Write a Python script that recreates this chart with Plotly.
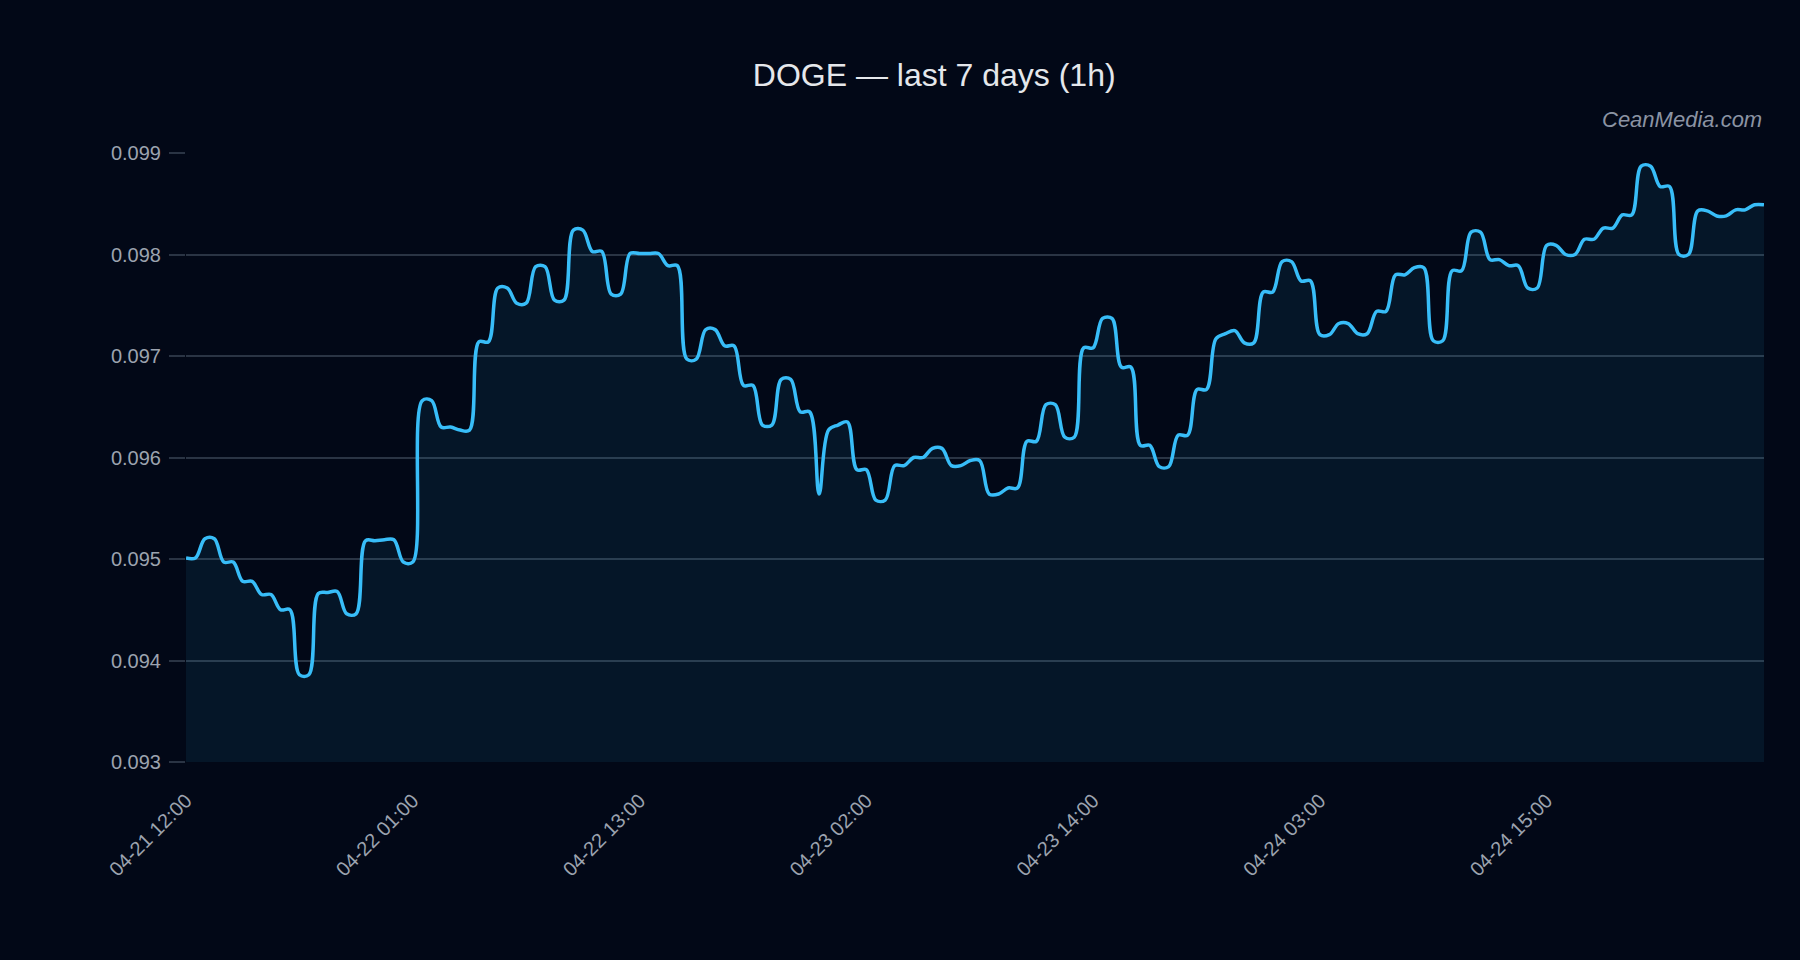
import plotly.graph_objects as go

price = [
    0.09501, 0.09501, 0.09520, 0.09520, 0.09497, 0.09497, 0.09478, 0.09478,
    0.09465, 0.09465, 0.09450, 0.09450, 0.09386, 0.09386, 0.09466, 0.09467,
    0.09468, 0.09446, 0.09446, 0.09518, 0.09518, 0.09519, 0.09519, 0.09497,
    0.09497, 0.09656, 0.09656, 0.09630, 0.09630, 0.09627, 0.09627, 0.09714,
    0.09714, 0.09767, 0.09767, 0.09752, 0.09752, 0.09788, 0.09788, 0.09755,
    0.09755, 0.09824, 0.09824, 0.09803, 0.09803, 0.09761, 0.09761, 0.09801,
    0.09801, 0.09801, 0.09801, 0.09789, 0.09789, 0.09697, 0.09697, 0.09726,
    0.09726, 0.09710, 0.09710, 0.09671, 0.09671, 0.09632, 0.09632, 0.09677,
    0.09677, 0.09645, 0.09645, 0.09564, 0.09627, 0.09632, 0.09635, 0.09588,
    0.09588, 0.09558, 0.09558, 0.09592, 0.09592, 0.09600, 0.09600, 0.09609,
    0.09609, 0.09592, 0.09592, 0.09597, 0.09597, 0.09564, 0.09564, 0.09570,
    0.09570, 0.09616, 0.09616, 0.09652, 0.09652, 0.09620, 0.09620, 0.09708,
    0.09708, 0.09737, 0.09737, 0.09689, 0.09689, 0.09612, 0.09612, 0.09591,
    0.09591, 0.09622, 0.09622, 0.09667, 0.09667, 0.09717, 0.09722, 0.09725,
    0.09713, 0.09713, 0.09763, 0.09763, 0.09793, 0.09793, 0.09774, 0.09774,
    0.09721, 0.09721, 0.09732, 0.09732, 0.09722, 0.09722, 0.09744, 0.09744,
    0.09780, 0.09780, 0.09787, 0.09787, 0.09715, 0.09715, 0.09784, 0.09784,
    0.09822, 0.09822, 0.09795, 0.09795, 0.09789, 0.09789, 0.09767, 0.09767,
    0.09809, 0.09809, 0.09800, 0.09800, 0.09815, 0.09815, 0.09826, 0.09826,
    0.09839, 0.09839, 0.09887, 0.09887, 0.09867, 0.09867, 0.09800, 0.09800,
    0.09843, 0.09843, 0.09838, 0.09838, 0.09844, 0.09844, 0.09849, 0.09849,
]

tick_labels = ["04-21 12:00", "04-22 01:00", "04-22 13:00", "04-23 02:00",
               "04-23 14:00", "04-24 03:00", "04-24 15:00"]
y_ticks = [0.093, 0.094, 0.095, 0.096, 0.097, 0.098, 0.099]
y_range = [0.093, 0.099]

TICK_EVERY = 24          # samples between labelled ticks
n = len(price)
x = list(range(n))

BG = "#020817"
GRID = "#2a3444"
TICK = "#9ca3af"
LINE = "#38bdf8"
FONT = "Liberation Sans, Arial, sans-serif"

fig = go.Figure()
fig.add_trace(go.Scatter(
    x=x, y=price, mode="lines",
    line=dict(color=LINE, width=3.5, shape="spline", smoothing=1.0),
    fill="tozeroy", fillcolor="rgba(56,189,248,0.08)",
    hoverinfo="skip", showlegend=False,
))

fig.update_layout(
    width=1800, height=960,
    paper_bgcolor=BG, plot_bgcolor=BG,
    margin=dict(l=186, r=36, t=153, b=198),
    font=dict(family=FONT, color=TICK),
    title=dict(text="DOGE — last 7 days (1h)", x=0.519, xref="container",
               xanchor="center", y=1 - 75 / 960, yanchor="middle",
               font=dict(family=FONT, size=32, color="#e5e7eb")),
    annotations=[dict(text="<i>CeanMedia.com</i>", xref="paper", yref="paper",
                      x=1, y=1 + 33 / 609, xanchor="right", yanchor="middle",
                      showarrow=False,
                      font=dict(family=FONT, size=22, color="#8b93a3"))],
)

fig.update_xaxes(
    range=[0, n - 1],
    tickmode="array",
    tickvals=list(range(0, n, TICK_EVERY))[:len(tick_labels)],
    ticktext=tick_labels,
    tickangle=-45,
    ticks="outside", ticklen=18, tickcolor=BG,
    tickfont=dict(family=FONT, size=20, color=TICK),
    showgrid=False, zeroline=False, showline=False,
)
fig.update_yaxes(
    range=y_range,
    tickmode="array", tickvals=y_ticks,
    ticktext=[f"{t:.3f}" for t in y_ticks],
    ticks="outside", ticklen=16, tickcolor=GRID, tickwidth=1.5,
    ticklabelstandoff=4,
    tickfont=dict(family=FONT, size=20, color=TICK),
    showgrid=True, gridcolor=GRID, gridwidth=1.5,
    zeroline=False, showline=False,
)

fig.write_html(
    "out.html",
    config={"displayModeBar": False},
    post_script="document.body.style.margin='0';document.body.style.overflow='hidden';",
)
